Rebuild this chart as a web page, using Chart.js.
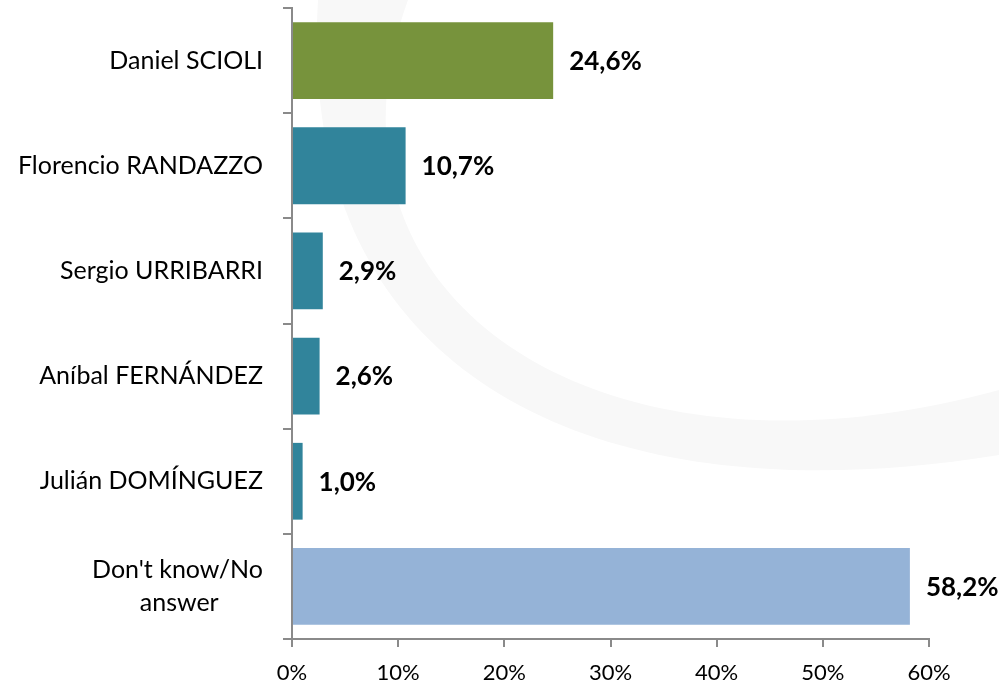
<!DOCTYPE html>
<html>
<head>
<meta charset="utf-8">
<script src="https://cdn.jsdelivr.net/npm/chart.js@4"></script>
<style>
  html, body { margin: 0; padding: 0; background: #ffffff; }
  #wrap { width: 999px; height: 687px; }
</style>
</head>
<body>
<div id="wrap"><canvas id="chart"></canvas></div>
<script>
// Chart data
const categories = [
    'Daniel SCIOLI',
    'Florencio RANDAZZO',
    'Sergio URRIBARRI',
    'Aníbal FERNÁNDEZ',
    'Julián DOMÍNGUEZ',
    ["Don't know/No", 'answer']
];
const values = [24.6, 10.7, 2.9, 2.6, 1.0, 58.2];
const barColors = ['#77933C', '#31849B', '#31849B', '#31849B', '#31849B', '#95B3D7'];
const xTicks = [0, 10, 20, 30, 40, 50, 60];

const FONT = 'Lato, "Open Sans", sans-serif';
const LABEL_SIZE = 25;
const AXIS_GREY = '#8a8a8a';

// pad shorter lines of a multi-line label so they look centred
// (Chart.js right-aligns every line of a y tick label)
const measureCtx = document.createElement('canvas').getContext('2d');
function centreLines(label) {
    if (!Array.isArray(label)) return label;
    measureCtx.font = LABEL_SIZE + 'px ' + FONT;
    const widths = label.map(l => measureCtx.measureText(l).width);
    const maxW = Math.max(...widths);
    const spaceW = measureCtx.measureText('\u00A0').width;
    return label.map((l, i) => l + '\u00A0'.repeat(Math.round((maxW - widths[i]) / 2 / spaceW)));
}

// faint decorative swoosh behind the chart
const swoosh = {
    id: 'swoosh',
    beforeDraw(chart) {
        const ctx = chart.ctx;
        ctx.save();
        ctx.fillStyle = '#f8f8f8';
        ctx.beginPath();
        ctx.moveTo(318, 0);
        ctx.bezierCurveTo(295, 380, 600, 520, 999, 455);
        ctx.lineTo(999, 390);
        ctx.bezierCurveTo(600, 500, 300, 300, 408, 0);
        ctx.closePath();
        ctx.fill();
        ctx.restore();
    }
};

// bold value labels to the right of each bar
const valueLabels = {
    id: 'valueLabels',
    afterDatasetsDraw(chart) {
        const ctx = chart.ctx;
        const meta = chart.getDatasetMeta(0);
        ctx.save();
        ctx.font = 'bold 26px ' + FONT;
        ctx.fillStyle = '#000';
        ctx.textAlign = 'left';
        ctx.textBaseline = 'middle';
        meta.data.forEach((bar, i) => {
            const txt = values[i].toFixed(1).replace('.', ',') + '%';
            ctx.fillText(txt, bar.x + 16, bar.y + 1);
        });
        ctx.restore();
    }
};

new Chart(document.getElementById('chart').getContext('2d'), {
    type: 'bar',
    data: {
        labels: categories,
        datasets: [{
            data: values,
            backgroundColor: barColors,
            borderWidth: 0,
            categoryPercentage: 1,
            barPercentage: 0.73
        }]
    },
    options: {
        indexAxis: 'y',
        responsive: true,
        maintainAspectRatio: false,
        animation: false,
        layout: { padding: { top: 8, right: 70, left: 0, bottom: 0 } },
        plugins: {
            legend: { display: false },
            tooltip: { enabled: false }
        },
        scales: {
            x: {
                min: 0,
                max: 60,
                afterFit: s => { s.height = 48; s.paddingLeft = 0; s.paddingRight = 0; },
                afterBuildTicks: s => { s.ticks = xTicks.map(v => ({ value: v })); },
                border: { color: AXIS_GREY, width: 2 },
                grid: { drawOnChartArea: false, tickLength: 8, color: AXIS_GREY, lineWidth: 2 },
                ticks: {
                    padding: 13,
                    color: '#000',
                    font: { family: FONT, size: 22 },
                    callback: v => v + '%'
                }
            },
            y: {
                afterFit: s => { s.width = 292; s.paddingTop = 0; s.paddingBottom = 0; },
                border: { color: AXIS_GREY, width: 2 },
                grid: { drawOnChartArea: false, tickLength: 9, color: AXIS_GREY, lineWidth: 2, offset: true },
                ticks: {
                    padding: 20,
                    color: '#000',
                    font: { family: FONT, size: LABEL_SIZE, lineHeight: 1.3 },
                    callback: function(value) { return centreLines(this.getLabelForValue(value)); }
                }
            }
        }
    },
    plugins: [swoosh, valueLabels]
});
</script>
</body>
</html>
